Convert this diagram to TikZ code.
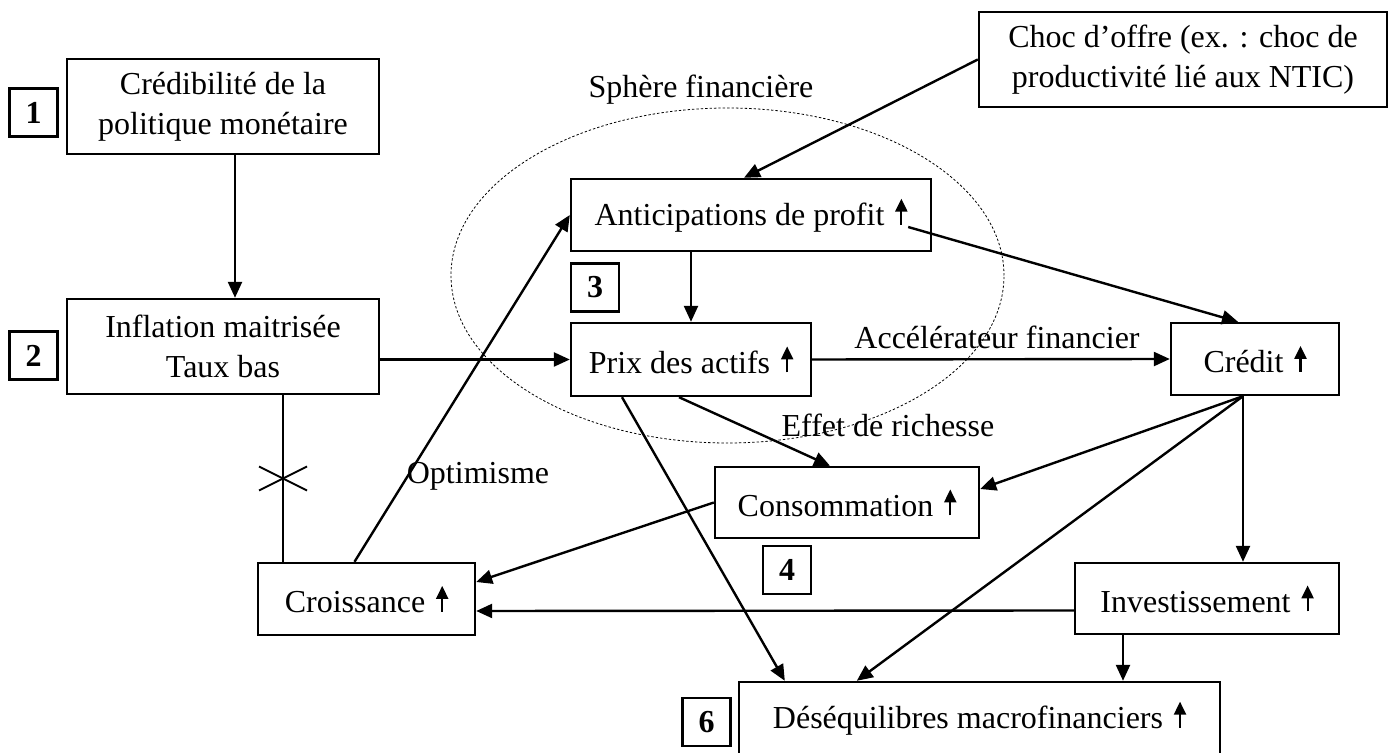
\documentclass[tikz,border=0pt]{standalone}
\usepackage{fontspec}
\setmainfont{Liberation Serif}
\usetikzlibrary{arrows.meta}

\newcommand{\hausse}{\hspace{1.5pt}\tikz[baseline=0pt]\draw[line width=1.1pt,-{Triangle[length=6.5pt,width=6pt]}] (0pt,0.5pt) -- (0pt,13.5pt);}

\tikzset{
  etape/.style={draw, line width=1.2pt, align=center, inner sep=2pt},
  numero/.style={draw, line width=1.2pt, minimum width=24pt, minimum height=24pt, inner sep=0pt, font=\fontsize{16}{20}\selectfont\bfseries},
  fleche/.style={line width=1.2pt, -{Triangle[length=8pt,width=7pt]}},
  lien/.style={line width=0.9pt},
  sphere/.style={line width=0.4pt, dash pattern=on 1.2pt off 1pt},
  legende/.style={inner sep=0pt}
}

\begin{document}
\begin{tikzpicture}[x=0.5pt, y=-0.5pt, font=\fontsize{16}{20}\selectfont]
\useasboundingbox (0,0) rectangle (1388,753);

%% POLITIQUE MONETAIRE
\node[etape, minimum width=156pt, minimum height=47.5pt] (cred_pol) at (223,106.5) {Crédibilité de la\\politique monétaire};
\node[etape, minimum width=156pt, minimum height=47.5pt] (infl) at (223,346.5) {Inflation maitrisée\\Taux bas};
\node[numero] (num_1) at (33.5,112.5) {1};
\node[numero] (num_2) at (33.5,355.5) {2};

\draw[fleche] ([xshift=6pt]cred_pol.south) -- ([xshift=6pt]infl.north);

%% SPHERE FINANCIERE
\draw[sphere] (727.5,275.5) ellipse [x radius=138.25pt, y radius=83.75pt];
\node[legende] (lbl_sphere) at (701,90) {Sphère financière};

\node[etape, minimum width=204pt, minimum height=47.5pt] (choc) at (1183,59.5) {Choc d’offre (ex. : choc de\\productivité lié aux NTIC)};
\node[etape, minimum width=180pt, minimum height=36pt] (ant_profit) at (751,215) {Anticipations de profit \hausse};
\node[etape, minimum width=120pt, minimum height=36.5pt] (prix_actifs) at (691,359.5) {Prix des actifs \hausse};
\node[numero] (num_3) at (595,287.5) {3};

\draw[fleche] (choc.west) -- ([xshift=-3.5pt]ant_profit.north);
\draw[fleche] (prix_actifs.north |- ant_profit.south) -- (prix_actifs.north);
\draw[fleche] (infl.east |- prix_actifs.west) -- (prix_actifs.west);

%% CREDIT
\node[etape, minimum width=84pt, minimum height=36pt] (credit) at (1255,359) {Crédit \hausse};
\node[legende] (lbl_accel) at (997,337) {Accélérateur financier};

\draw[fleche] (prix_actifs.east) -- (credit.west);
\draw[fleche] ([shift={(-12pt,-6pt)}]ant_profit.east) -- ([xshift=-8.5pt]credit.north);

%% ECONOMIE REELLE
\node[etape, minimum width=132pt, minimum height=35.5pt] (conso) at (847,502.5) {Consommation \hausse};
\node[etape, minimum width=108.5pt, minimum height=36pt] (crois) at (366.5,599) {Croissance \hausse};
\node[etape, minimum width=132pt, minimum height=35.5pt] (invest) at (1207,598.5) {Investissement \hausse};
\node[numero] (num_4) at (787,570) {4};
\node[legende] (lbl_richesse) at (888,425) {Effet de richesse};
\node[legende] (lbl_optim) at (478,476) {Optimisme};

\draw[fleche] ([xshift=-6pt]prix_actifs.south) -- ([xshift=-8.5pt]conso.north);
\draw[fleche] ([xshift=-6pt]credit.south) -- ([yshift=6.75pt]conso.east);
\draw[fleche] ([xshift=-6pt]credit.south) -- ([xshift=-6pt]credit.south |- invest.north);
\draw[fleche] (conso.west) -- ([yshift=8.5pt]crois.east);
\draw[fleche] ([yshift=-6pt]invest.west) -- ([yshift=-6pt]crois.east);
\draw[fleche] ([xshift=-6pt]crois.north) -- (ant_profit.west);

% lien rompu inflation / croissance
\draw[lien] ([xshift=30pt]infl.south) -- coordinate[pos=0.5] (barre) ([xshift=30pt]infl.south |- crois.north);
\draw[lien] (barre) ++(-24,-12) -- ++(48,24);
\draw[lien] (barre) ++(-24,12) -- ++(48,-24);

%% DESEQUILIBRES
\node[etape, minimum width=240.5pt, minimum height=36pt] (deseq) at (979.5,718) {Déséquilibres macrofinanciers \hausse};
\node[numero] (num_6) at (706.5,722) {6};

\draw[fleche] ([xshift=-34.5pt]prix_actifs.south) -- ([xshift=23.5pt]deseq.north west);
\draw[fleche] ([xshift=-6pt]credit.south) -- ([xshift=59.5pt]deseq.north west);
\draw[fleche] ([xshift=-42pt]invest.south) -- ([xshift=-42pt]invest.south |- deseq.north);

\end{tikzpicture}
\end{document}
